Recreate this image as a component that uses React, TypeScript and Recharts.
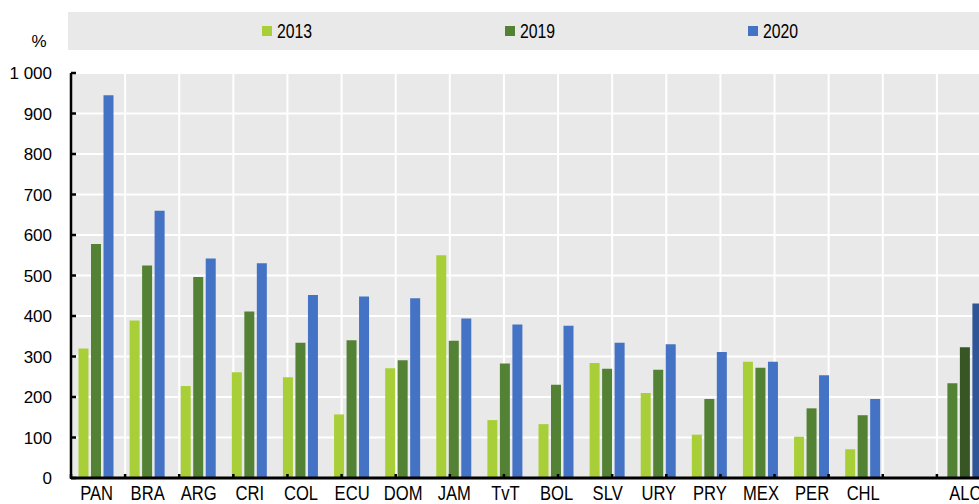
import { Bar, BarChart, CartesianGrid, Cell, Legend, XAxis, YAxis } from "recharts";

const categories = ["PAN", "BRA", "ARG", "CRI", "COL", "ECU", "DOM", "JAM", "TvT", "BOL", "SLV", "URY", "PRY", "MEX", "PER", "CHL", "", "ALC"];
const v2013 = [320, 389, 227, 261, 249, 157, 271, 550, 143, 133, 284, 210, 107, 287, 102, 71, null, 234];
const v2019 = [578, 525, 496, 411, 334, 340, 291, 339, 283, 230, 270, 267, 195, 272, 172, 155, null, 323];
const v2020 = [945, 660, 542, 530, 452, 448, 444, 394, 379, 376, 334, 330, 311, 287, 254, 195, null, 431];
const yTicks = [0, 100, 200, 300, 400, 500, 600, 700, 800, 900, 1000];

const seriesNames = ["2013", "2019", "2020"];
const seriesKeys = ["y2013", "y2019", "y2020"];
const colors = ["#a9cf38", "#548235", "#4472c4"];
const alcColors = ["#548235", "#375623", "#2f5597"];

const data = categories.map((name, i) => ({
  name,
  y2013: v2013[i],
  y2019: v2019[i],
  y2020: v2020[i],
}));

// ticks for category boundaries (0..n)
const boundaryTicks = categories.map((_, i) => i).concat(categories.length);

const fmt = (v: number) => String(v).replace(/\B(?=(\d{3})+(?!\d))/g, " ");

const font = "'Liberation Sans', Arial, Helvetica, sans-serif";

// condensed category label
function CatTick(props: any) {
  const { x, y, payload } = props;
  return (
    <text
      transform={`translate(${x},${y}) scale(0.83,1)`}
      textAnchor="middle"
      dy="0.71em"
      fill="#000"
      fontSize={20}
      fontFamily={font}
    >
      {payload.value}
    </text>
  );
}

function LegendBand() {
  return (
    <div
      style={{
        display: "flex",
        alignItems: "center",
        height: 38,
        paddingLeft: 194,
        background: "#e9e9e9",
        fontFamily: font,
        fontSize: 20,
        color: "#000",
        boxSizing: "border-box",
      }}
    >
      {seriesNames.map((s, i) => (
        <div key={s} style={{ display: "flex", alignItems: "center", width: 246 }}>
          <span style={{ width: 10, height: 10, background: colors[i], display: "inline-block" }} />
          <span
            style={{
              marginLeft: 5,
              display: "inline-block",
              transform: "scaleX(0.79)",
              transformOrigin: "left center",
            }}
          >
            {s}
          </span>
        </div>
      ))}
    </div>
  );
}

export default function App() {
  return (
    <div
      style={{
        position: "absolute",
        left: 0,
        top: 0,
        width: 979,
        height: 504,
        overflow: "hidden",
        background: "#fff",
        fontFamily: font,
      }}
    >
      <BarChart
        width={991}
        height={504}
        data={data}
        margin={{ top: 73, right: 0, left: 0, bottom: 0 }}
        barCategoryGap={7.5}
        barGap={2.5}
      >
        <CartesianGrid
          xAxisId="b"
          stroke="#ffffff"
          strokeWidth={2}
          fill="#e9e9e9"
          fillOpacity={1}
        />
        <XAxis
          dataKey="name"
          height={1}
          interval={0}
          axisLine={{ stroke: "#000", strokeWidth: 3 }}
          tickLine={false}
          tickSize={0}
          tickMargin={8}
          tick={<CatTick />}
        />
        <XAxis
          xAxisId="b"
          type="number"
          domain={[0, categories.length]}
          ticks={boundaryTicks}
          interval={0}
          height={25}
          tick={() => <g />}
          tickSize={-5}
          axisLine={false}
          tickLine={{ stroke: "#000", strokeWidth: 2.5 }}
        />
        <YAxis
          width={71}
          domain={[0, 1000]}
          ticks={yTicks}
          interval={0}
          tickFormatter={fmt}
          tickSize={-5}
          tickMargin={24}
          axisLine={{ stroke: "#000", strokeWidth: 2.5 }}
          tickLine={{ stroke: "#000", strokeWidth: 2.5 }}
          tick={{ fill: "#000", fontSize: 17, fontFamily: font }}
          label={{ value: "%", position: "top", offset: 26, dx: 3.5, fill: "#000", fontSize: 17, fontFamily: font }}
        />
        <Legend
          layout="horizontal"
          verticalAlign="middle"
          align="center"
          wrapperStyle={{ top: 12, left: 68, width: 923, height: 38 }}
          content={() => <LegendBand />}
        />
        {seriesKeys.map((k, si) => (
          <Bar key={k} dataKey={k} name={seriesNames[si]} fill={colors[si]} isAnimationActive={false}>
            {data.map((d) => (
              <Cell key={d.name || "gap"} fill={d.name === "ALC" ? alcColors[si] : colors[si]} />
            ))}
          </Bar>
        ))}
      </BarChart>
    </div>
  );
}
